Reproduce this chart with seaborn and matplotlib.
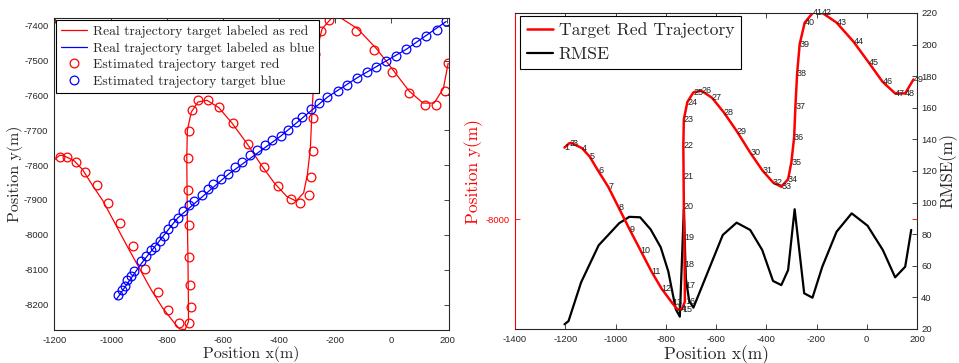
import matplotlib
matplotlib.use("Agg")
import matplotlib.pyplot as plt
import seaborn as sns
from matplotlib.lines import Line2D

# ---------------- data ----------------
# real trajectory of the red target (49 numbered points, right panel)
traj_x = [-1203, -1184, -1172, -1133, -1103, -1069, -1029, -987, -944, -900,
          -856, -817, -775, -756, -736, -724, -724, -725, -726, -728,
          -729, -730, -728, -714, -690, -658, -616, -569, -517, -464,
          -416, -373, -340, -313, -300, -289, -284, -277, -267, -247,
          -213, -180, -120, -53, 7, 63, 113, 153, 186]
traj_y = [-7785, -7772, -7772, -7787, -7812, -7855, -7903, -7966, -8031, -8095,
          -8159, -8209, -8252, -8270, -8272, -8249, -8201, -8136, -8055, -7963,
          -7871, -7779, -7700, -7648, -7619, -7614, -7635, -7679, -7736, -7800,
          -7853, -7890, -7903, -7880, -7829, -7754, -7662, -7561, -7474, -7409,
          -7378, -7378, -7409, -7466, -7528, -7587, -7622, -7622, -7580]
# extra end point of the real red trajectory visible in the left panel
red_end_x = [203]
red_end_y = [-7508]

# estimated red target positions (circles)
est_red_x = [-1181, -1158, -1125, -1093, -1051, -1010, -968, -922, -878, -832,
             -796, -759, -721, -715, -719, -721, -723, -725, -725, -721,
             -713, -689, -656, -614, -564, -511, -454, -404, -359, -325,
             -293, -287, -281, -278, -281, -272, -252, -224, -127, -62,
             1, 63, 120, 161, 190, 203]
est_red_y = [-7776, -7776, -7792, -7821, -7857, -7909, -7967, -8031, -8097, -8163,
             -8217, -8254, -8254, -8207, -8145, -8065, -7971, -7871, -7781, -7703,
             -7643, -7612, -7612, -7633, -7678, -7740, -7805, -7859, -7897, -7909,
             -7886, -7833, -7759, -7665, -7571, -7481, -7416, -7383, -7414, -7469,
             -7533, -7592, -7629, -7629, -7586, -7508]

# real trajectory of the blue target
blue_x = [-982, -891, -763, -581, -395, -228, -121, 55, 196]
blue_y = [-8186, -8081, -7952, -7826, -7717, -7605, -7549, -7467, -7388]

# estimated blue target positions (circles)
est_blue_x = [-975, -963, -952, -942, -930, -920, -892, -877, -859, -844,
              -826, -811, -796, -781, -762, -742, -722, -704, -677, -655,
              -637, -609, -582, -558, -532, -505, -478, -451, -425, -395,
              -369, -339, -318, -288, -259, -229, -190, -158, -122, -86,
              -53, -19, 17, 54, 89, 125, 163, 195]
est_blue_y = [-8174, -8159, -8146, -8131, -8117, -8105, -8076, -8060, -8043, -8036,
              -8017, -8003, -7984, -7967, -7952, -7933, -7914, -7903, -7886, -7869,
              -7855, -7841, -7826, -7805, -7791, -7771, -7757, -7741, -7727, -7717,
              -7698, -7676, -7662, -7638, -7621, -7605, -7586, -7569, -7549, -7533,
              -7519, -7500, -7486, -7467, -7448, -7431, -7412, -7388]

# RMSE curve (right panel, right axis)
rmse_x = [-1203, -1187, -1137, -1067, -985, -945, -902, -860, -820, -790,
          -760, -744, -728, -720, -707, -690, -573, -518, -464, -416,
          -373, -340, -313, -287, -249, -216, -177, -120, -60, 3,
          64, 113, 153, 177]
rmse_v = [23, 25, 49.5, 73, 87, 91, 90.7, 83, 71.7, 56.5,
          32.5, 27.8, 95.8, 52, 38, 33.5, 79.5, 87.3, 82.7, 70,
          50.4, 47.8, 57.3, 95.8, 42.6, 39.8, 59.4, 81.6, 93.2, 85.4,
          70, 52.7, 59.4, 82.7]

point_labels = [str(i) for i in range(1, len(traj_x) + 1)]

# ---------------- style ----------------
sns.set_theme(style="white")
plt.rcParams["font.family"] = ["Liberation Sans", "DejaVu Sans"]
plt.rcParams["axes.unicode_minus"] = False

DARK = "#262626"
SERIF = "cmr10"

fig = plt.figure(figsize=(9.59, 3.63), dpi=100)
ax1 = fig.add_axes([54 / 959, 33 / 363, 395 / 959, 312 / 363])
ax2 = fig.add_axes([515 / 959, 34 / 363, 402 / 959, 316 / 363])

# ---------------- left panel ----------------
sns.lineplot(x=traj_x + red_end_x, y=traj_y + red_end_y, sort=False, estimator=None,
             color="red", lw=0.9, ax=ax1)
sns.lineplot(x=blue_x, y=blue_y, sort=False, estimator=None,
             color="blue", lw=0.9, ax=ax1)
sns.lineplot(x=est_red_x, y=est_red_y, sort=False, estimator=None, ax=ax1,
             linestyle="none", marker="o", markersize=6.3, markerfacecolor="none",
             markeredgecolor="red", markeredgewidth=0.9, color="red")
sns.lineplot(x=est_blue_x, y=est_blue_y, sort=False, estimator=None, ax=ax1,
             linestyle="none", marker="o", markersize=6.3, markerfacecolor="none",
             markeredgecolor="blue", markeredgewidth=0.9, color="blue")

ax1.set_xlim(-1204, 206)
ax1.set_ylim(-8273, -7378)
ax1.set_xticks(range(-1200, 201, 200))
ax1.set_yticks(range(-8200, -7399, 100))
ax1.tick_params(direction="in", top=True, right=True, length=3.5, width=0.6,
                labelsize=6.8, colors=DARK, pad=4)
for s in ax1.spines.values():
    s.set_color(DARK)
    s.set_linewidth(0.8)
ax1.set_xlabel("Position x(m)", fontfamily=SERIF, fontsize=11.5, color=DARK, labelpad=1)
ax1.set_ylabel("Position y(m)", fontfamily=SERIF, fontsize=11.5, color=DARK, labelpad=1)

h1 = [Line2D([], [], color="red", lw=0.9),
      Line2D([], [], color="blue", lw=0.9),
      Line2D([], [], ls="none", marker="o", ms=6.3, mfc="none", mec="red", mew=0.9),
      Line2D([], [], ls="none", marker="o", ms=6.3, mfc="none", mec="blue", mew=0.9)]
l1 = ["Real trajectory target labeled as red", "Real trajectory target labeled as blue",
      "Estimated trajectory target red", "Estimated trajectory target blue"]
leg1 = ax1.legend(h1, l1, loc="upper left", bbox_to_anchor=(0.005, 0.992),
                  prop={"family": SERIF, "size": 9.8}, frameon=True, fancybox=False,
                  framealpha=1, edgecolor="black", borderpad=0.35, labelspacing=0.3,
                  handlelength=1.9, handletextpad=0.5, borderaxespad=0)
leg1.get_frame().set_linewidth(0.8)
for t in leg1.get_texts():
    t.set_color(DARK)

# ---------------- right panel ----------------
ax2r = ax2.twinx()
sns.lineplot(x=rmse_x, y=rmse_v, sort=False, estimator=None, color="black", lw=1.6, ax=ax2r)
sns.lineplot(x=traj_x, y=traj_y, sort=False, estimator=None, color="red", lw=1.8, ax=ax2)
for xi, yi, lab in zip(traj_x, traj_y, point_labels):
    ax2.text(xi, yi, lab, fontsize=6.5, color="#222222", ha="left", va="center")

ax2.set_zorder(ax2r.get_zorder() + 1)
ax2.patch.set_visible(False)

ax2.set_xlim(-1400, 200)
ax2.set_ylim(-8331, -7380)
ax2r.set_ylim(20, 220)
ax2.set_xticks(range(-1400, 201, 200))
ax2.set_yticks([-8000])
ax2r.set_yticks(range(20, 221, 20))

ax2.tick_params(axis="x", direction="in", top=True, bottom=True, length=3.5, width=0.6,
                labelsize=6.8, colors=DARK, pad=4)
ax2.tick_params(axis="y", direction="in", left=True, right=True, labelright=False,
                length=3.5, width=0.6, labelsize=6.8, colors="red", pad=4)
ax2r.tick_params(axis="y", direction="in", right=True, length=3.5, width=0.6,
                 labelsize=6.8, colors=DARK, pad=3)

for name, s in ax2.spines.items():
    s.set_linewidth(0.8)
    s.set_color(DARK)
ax2.spines["left"].set_color("red")
ax2.spines["right"].set_visible(False)
for name, s in ax2r.spines.items():
    s.set_linewidth(0.8)
    s.set_color(DARK)
ax2r.spines["left"].set_visible(False)
ax2r.spines["top"].set_visible(False)
ax2r.spines["bottom"].set_visible(False)

ax2.set_xlabel("Position x(m)", fontfamily=SERIF, fontsize=12.5, color=DARK, labelpad=1)
ax2.set_ylabel("Position y(m)", fontfamily=SERIF, fontsize=12.5, color="red", labelpad=2)
ax2r.set_ylabel("RMSE(m)", fontfamily=SERIF, fontsize=12, color=DARK, labelpad=1)

h2 = [Line2D([], [], color="red", lw=1.8), Line2D([], [], color="black", lw=1.6)]
leg2 = ax2.legend(h2, ["Target Red Trajectory", "RMSE"], loc="upper left",
                  bbox_to_anchor=(0.012, 0.992), prop={"family": SERIF, "size": 12.7},
                  frameon=True, fancybox=False, framealpha=1, edgecolor="black",
                  borderpad=0.4, labelspacing=0.45, handlelength=1.5,
                  handletextpad=0.3, borderaxespad=0)
leg2.get_frame().set_linewidth(0.8)
for t in leg2.get_texts():
    t.set_color(DARK)

fig.savefig("out.png", dpi=100)
